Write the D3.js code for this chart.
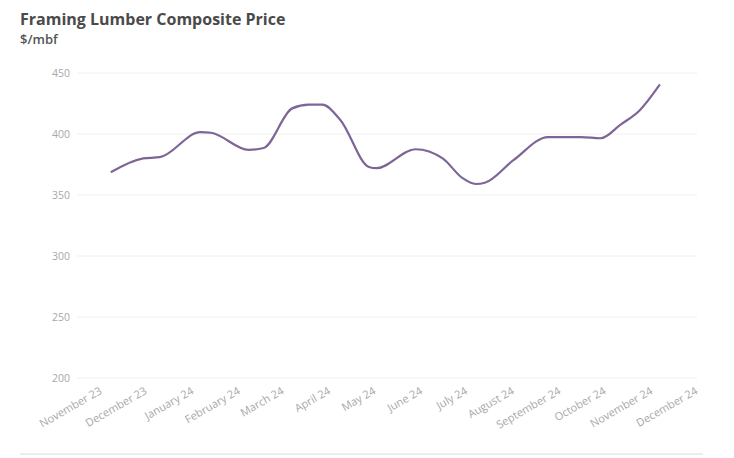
<!DOCTYPE html>
<html>
<head>
<meta charset="utf-8">
<script src="https://cdn.jsdelivr.net/npm/d3@7"></script>
<style>
  body { margin: 0; background: #fff; }
  svg { display: block; font-family: 'Open Sans', sans-serif; }
</style>
</head>
<body>
<div id="chart"></div>
<script>
// data (dates of the points, price in $/mbf)
const dates = [
  '2023-11-08', '2023-11-29', '2023-12-10', '2024-01-06', '2024-01-13',
  '2024-02-07', '2024-02-17', '2024-03-07', '2024-03-18', '2024-03-27',
  '2024-04-08', '2024-04-27', '2024-05-02', '2024-05-28', '2024-06-15',
  '2024-06-28', '2024-07-07', '2024-07-13', '2024-08-01', '2024-08-24',
  '2024-09-15', '2024-09-28', '2024-10-11', '2024-10-24', '2024-11-06',
];
const prices = [
  369, 380, 381, 401.5, 401,
  387, 388.5, 421, 424, 424,
  411.5, 373, 372, 387.5, 380,
  364, 359, 360, 378.5, 397.5,
  397.5, 396.5, 407.5, 419.5, 440,
];
const yTicks = [200, 250, 300, 350, 400, 450];
const monthTicks = [
  '2023-11-01', '2023-12-01', '2024-01-01', '2024-02-01', '2024-03-01',
  '2024-04-01', '2024-05-01', '2024-06-01', '2024-07-01', '2024-08-01',
  '2024-09-01', '2024-10-01', '2024-11-01', '2024-12-01',
];

const parse = d3.timeParse('%Y-%m-%d');
const fmt = d3.timeFormat('%B %y');

const W = 734;
const H = 458;
const M = { left: 77, right: 37, top: 73, bottom: 80 };

const svg = d3.select('#chart').append('svg')
  .attr('width', W)
  .attr('height', H);

// titles
svg.append('text')
  .attr('x', 20)
  .attr('y', 25)
  .attr('fill', '#4a4a4a')
  .attr('font-size', 16)
  .attr('font-weight', 700)
  .text('Framing Lumber Composite Price');

svg.append('text')
  .attr('x', 20)
  .attr('y', 44)
  .attr('fill', '#555')
  .attr('font-size', 13)
  .attr('font-weight', 600)
  .text('$/mbf');

const x = d3.scaleTime()
  .domain([parse('2023-10-16'), parse('2024-12-01')])
  .range([M.left, W - M.right]);

const y = d3.scaleLinear()
  .domain([200, 450])
  .range([H - 80, M.top]);

// grid lines
svg.append('g')
  .selectAll('line')
  .data(yTicks)
  .join('line')
  .attr('x1', M.left)
  .attr('x2', W - M.right)
  .attr('y1', (d) => y(d))
  .attr('y2', (d) => y(d))
  .attr('stroke', '#f0f0f0')
  .attr('stroke-width', 1);

// y axis
const yAxis = svg.append('g')
  .attr('transform', `translate(${M.left - 7},0)`)
  .call(d3.axisLeft(y).tickValues(yTicks).tickSize(0).tickPadding(0));
yAxis.select('.domain').remove();
yAxis.selectAll('text')
  .attr('fill', '#a8a8a8')
  .attr('font-size', 10.5)
  .attr('font-family', 'Open Sans, sans-serif');

// x axis
const xAxis = svg.append('g')
  .attr('transform', `translate(0,${y(200)})`)
  .call(d3.axisBottom(x).tickValues(monthTicks.map(parse)).tickFormat(fmt).tickSize(0));
xAxis.select('.domain').remove();
xAxis.selectAll('text')
  .attr('fill', '#a8a8a8')
  .attr('font-size', 11)
  .attr('font-family', 'Open Sans, sans-serif')
  .attr('text-anchor', 'end')
  .attr('dy', null)
  .attr('y', 0)
  .attr('transform', 'translate(1,15) rotate(-30)');

// line
const points = dates.map((d, i) => ({ date: parse(d), value: prices[i] }));

svg.append('path')
  .datum(points)
  .attr('fill', 'none')
  .attr('stroke', '#7e6597')
  .attr('stroke-width', 2.2)
  .attr('stroke-linecap', 'round')
  .attr('d', d3.line()
    .x((d) => x(d.date))
    .y((d) => y(d.value))
    .curve(d3.curveMonotoneX));

// bottom separator
svg.append('line')
  .attr('x1', 20)
  .attr('x2', 703)
  .attr('y1', 454)
  .attr('y2', 454)
  .attr('stroke', '#ececec')
  .attr('stroke-width', 2);
</script>
</body>
</html>
